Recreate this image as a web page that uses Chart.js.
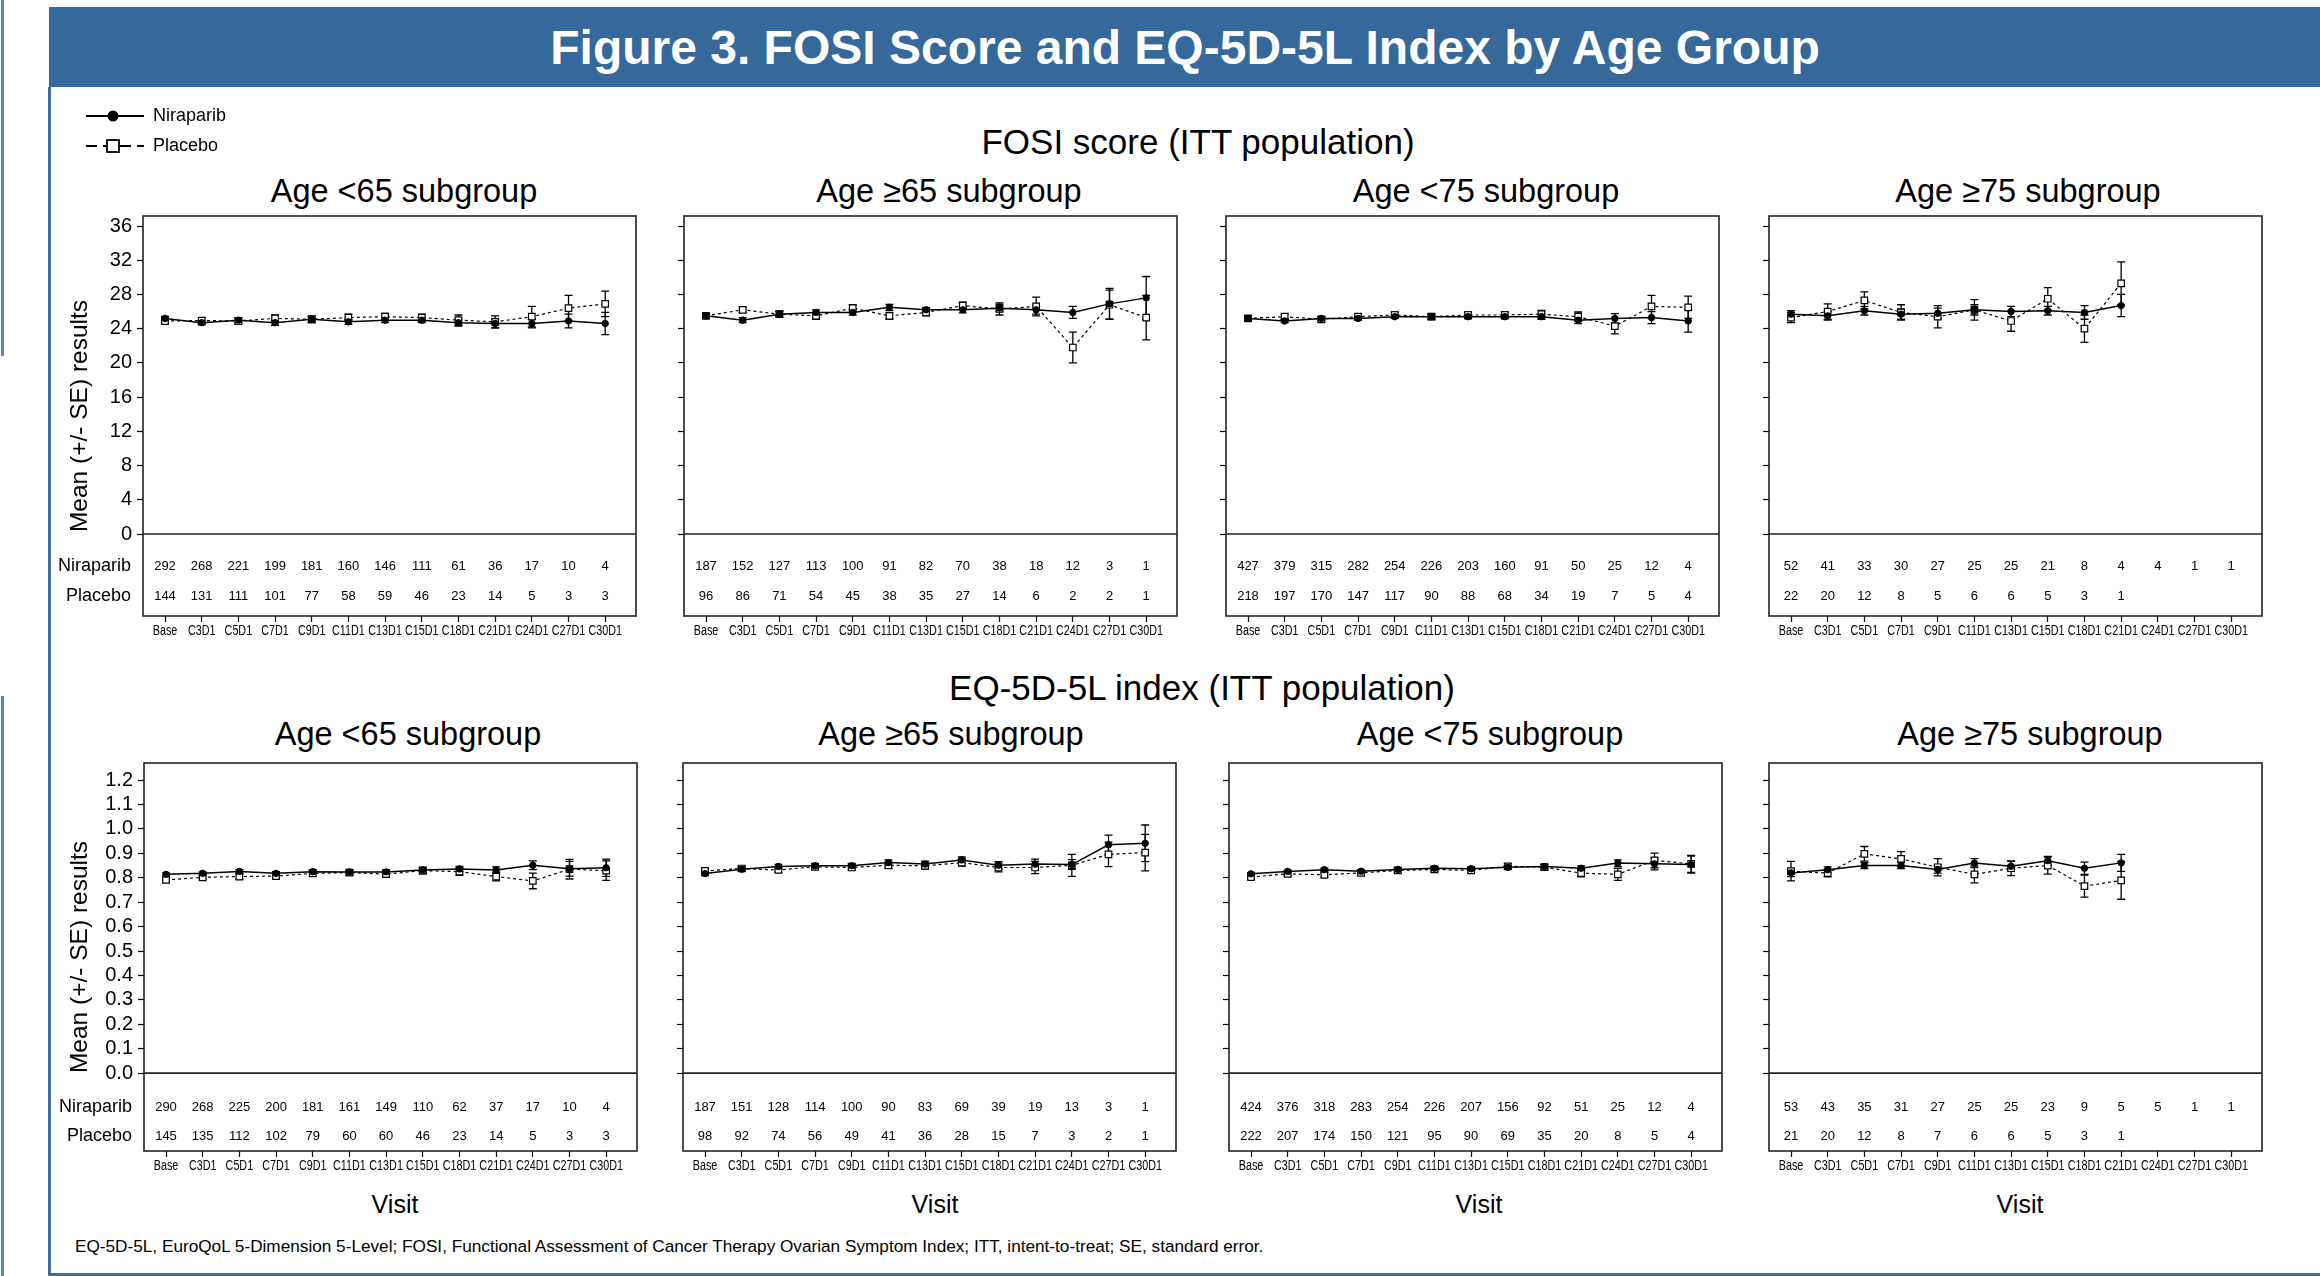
<!DOCTYPE html>
<html>
<head>
<meta charset="utf-8">
<title>Figure 3. FOSI Score and EQ-5D-5L Index by Age Group</title>
<script src="https://cdn.jsdelivr.net/npm/chart.js@4.4.0/dist/chart.umd.min.js"></script>
<style>
  html, body { margin: 0; padding: 0; background: #fff; }
  body { width: 2320px; height: 1276px; position: relative; overflow: hidden;
         font-family: Arial, "Liberation Sans", sans-serif; color: #000; }
  .abs { position: absolute; }
  .ctr { position: absolute; transform: translate(-50%, -50%); white-space: nowrap; }
  #banner { left: 49px; top: 7px; width: 2271px; height: 80px; background: #35689b; }
  #title { left: 1185px; top: 47px; color: #fff; font-weight: bold; font-size: 48px; }
  .section { font-size: 35px; }
  .sub { font-size: 32.5px; }
  .visit { font-size: 25px; top: 1204px; }
  #foot { left: 75px; top: 1236px; font-size: 17.2px; white-space: nowrap; }
  .edge { background: #3e6fa3; }
</style>
</head>
<body>
<div class="abs edge" style="left:1px;top:0;width:3px;height:356px;background:#5b87b8"></div>
<div class="abs edge" style="left:1px;top:696px;width:3px;height:580px;background:#5b87b8"></div>
<div id="banner" class="abs"></div>
<div class="abs edge" style="left:48px;top:87px;width:3px;height:1189px"></div>
<div class="abs edge" style="left:48px;top:1273px;width:2272px;height:3px"></div>
<div id="title" class="ctr">Figure 3. FOSI Score and EQ-5D-5L Index by Age Group</div>

<canvas id="legend" class="abs" width="200" height="62" style="left:80px;top:100px"></canvas>

<div class="ctr section" style="left:1198px;top:142px">FOSI score (ITT population)</div>
<div class="ctr section" style="left:1202px;top:688px">EQ-5D-5L index (ITT population)</div>

<div class="ctr sub" style="left:404px;top:191px">Age &lt;65 subgroup</div>
<div class="ctr sub" style="left:949px;top:191px">Age ≥65 subgroup</div>
<div class="ctr sub" style="left:1486px;top:191px">Age &lt;75 subgroup</div>
<div class="ctr sub" style="left:2028px;top:191px">Age ≥75 subgroup</div>
<div class="ctr sub" style="left:408px;top:734px">Age &lt;65 subgroup</div>
<div class="ctr sub" style="left:951px;top:734px">Age ≥65 subgroup</div>
<div class="ctr sub" style="left:1490px;top:734px">Age &lt;75 subgroup</div>
<div class="ctr sub" style="left:2030px;top:734px">Age ≥75 subgroup</div>

<div class="ctr visit" style="left:395px">Visit</div>
<div class="ctr visit" style="left:935px">Visit</div>
<div class="ctr visit" style="left:1479px">Visit</div>
<div class="ctr visit" style="left:2020px">Visit</div>

<div id="foot" class="abs">EQ-5D-5L, EuroQoL 5-Dimension 5-Level; FOSI, Functional Assessment of Cancer Therapy Ovarian Symptom Index; ITT, intent-to-treat; SE, standard error.</div>

<script>
// visits and axis ticks
const visits = ['Base', 'C3D1', 'C5D1', 'C7D1', 'C9D1', 'C11D1', 'C13D1', 'C15D1', 'C18D1', 'C21D1', 'C24D1', 'C27D1', 'C30D1'];
const fosiTicks = [0, 4, 8, 12, 16, 20, 24, 28, 32, 36];
const eqTicks = [0.0, 0.1, 0.2, 0.3, 0.4, 0.5, 0.6, 0.7, 0.8, 0.9, 1.0, 1.1, 1.2];

// FOSI score, age <65
const fosiU65Nira = [25.2, 24.7, 25.0, 24.7, 25.1, 24.8, 25.0, 25.0, 24.7, 24.6, 24.6, 24.9, 24.6];
const fosiU65NiraSE = [0.25, 0.25, 0.3, 0.3, 0.3, 0.3, 0.3, 0.3, 0.4, 0.5, 0.5, 0.8, 1.3];
const fosiU65Plac = [24.9, 24.95, 24.9, 25.2, 25.1, 25.3, 25.4, 25.3, 25.0, 24.8, 25.4, 26.4, 26.9];
const fosiU65PlacSE = [0.35, 0.35, 0.35, 0.4, 0.4, 0.4, 0.4, 0.4, 0.6, 0.7, 1.2, 1.5, 1.5];
const fosiU65NiraN = [292, 268, 221, 199, 181, 160, 146, 111, 61, 36, 17, 10, 4];
const fosiU65PlacN = [144, 131, 111, 101, 77, 58, 59, 46, 23, 14, 5, 3, 3];

// FOSI score, age >=65
const fosiO65Nira = [25.5, 25.0, 25.7, 25.9, 25.9, 26.5, 26.2, 26.2, 26.4, 26.2, 25.9, 26.9, 27.6];
const fosiO65NiraSE = [0.25, 0.3, 0.3, 0.3, 0.3, 0.35, 0.3, 0.35, 0.4, 0.5, 0.7, 1.8, 2.5];
const fosiO65Plac = [25.5, 26.2, 25.7, 25.5, 26.4, 25.5, 25.9, 26.7, 26.3, 26.6, 21.8, 26.8, 25.3];
const fosiO65PlacSE = [0.3, 0.3, 0.35, 0.4, 0.4, 0.4, 0.4, 0.4, 0.7, 1.1, 1.8, 1.7, 2.6];
const fosiO65NiraN = [187, 152, 127, 113, 100, 91, 82, 70, 38, 18, 12, 3, 1];
const fosiO65PlacN = [96, 86, 71, 54, 45, 38, 35, 27, 14, 6, 2, 2, 1];

// FOSI score, age <75
const fosiU75Nira = [25.2, 24.9, 25.2, 25.2, 25.4, 25.4, 25.4, 25.4, 25.4, 25.0, 25.2, 25.3, 24.9];
const fosiU75NiraSE = [0.2, 0.2, 0.2, 0.2, 0.2, 0.25, 0.25, 0.25, 0.3, 0.4, 0.55, 0.7, 1.3];
const fosiU75Plac = [25.2, 25.4, 25.1, 25.4, 25.6, 25.4, 25.6, 25.6, 25.7, 25.4, 24.3, 26.6, 26.5];
const fosiU75PlacSE = [0.3, 0.3, 0.3, 0.3, 0.35, 0.35, 0.35, 0.35, 0.45, 0.55, 0.9, 1.3, 1.3];
const fosiU75NiraN = [427, 379, 315, 282, 254, 226, 203, 160, 91, 50, 25, 12, 4];
const fosiU75PlacN = [218, 197, 170, 147, 117, 90, 88, 68, 34, 19, 7, 5, 4];

// FOSI score, age >=75
const fosiO75Nira = [25.7, 25.5, 26.1, 25.7, 25.8, 26.2, 26.0, 26.1, 25.9, 26.7];
const fosiO75NiraSE = [0.4, 0.5, 0.5, 0.6, 0.6, 0.6, 0.6, 0.5, 0.8, 1.3];
const fosiO75Plac = [25.3, 26.0, 27.3, 25.9, 25.4, 26.2, 24.9, 27.5, 24.0, 29.3];
const fosiO75PlacSE = [0.6, 0.9, 1.0, 0.9, 1.3, 1.2, 1.2, 1.3, 1.6, 2.5];
const fosiO75NiraN = [52, 41, 33, 30, 27, 25, 25, 21, 8, 4, 4, 1, 1];
const fosiO75PlacN = [22, 20, 12, 8, 5, 6, 6, 5, 3, 1];

// EQ-5D-5L index, age <65
const eqU65Nira = [0.814, 0.818, 0.826, 0.818, 0.825, 0.824, 0.824, 0.832, 0.836, 0.832, 0.851, 0.837, 0.841];
const eqU65NiraSE = [0.006, 0.006, 0.007, 0.007, 0.008, 0.008, 0.009, 0.010, 0.011, 0.013, 0.018, 0.030, 0.035];
const eqU65Plac = [0.791, 0.802, 0.805, 0.807, 0.818, 0.821, 0.815, 0.829, 0.825, 0.805, 0.787, 0.835, 0.829];
const eqU65PlacSE = [0.009, 0.009, 0.010, 0.010, 0.011, 0.011, 0.012, 0.013, 0.015, 0.018, 0.032, 0.040, 0.040];
const eqU65NiraN = [290, 268, 225, 200, 181, 161, 149, 110, 62, 37, 17, 10, 4];
const eqU65PlacN = [145, 135, 112, 102, 79, 60, 60, 46, 23, 14, 5, 3, 3];

// EQ-5D-5L index, age >=65
const eqO65Nira = [0.817, 0.835, 0.846, 0.849, 0.849, 0.862, 0.856, 0.873, 0.851, 0.856, 0.854, 0.935, 0.941];
const eqO65NiraSE = [0.008, 0.009, 0.009, 0.010, 0.010, 0.011, 0.012, 0.012, 0.015, 0.020, 0.020, 0.040, 0.075];
const eqO65Plac = [0.828, 0.838, 0.832, 0.845, 0.842, 0.851, 0.849, 0.862, 0.842, 0.842, 0.851, 0.896, 0.903];
const eqO65PlacSE = [0.010, 0.010, 0.010, 0.011, 0.011, 0.012, 0.013, 0.014, 0.018, 0.025, 0.045, 0.050, 0.075];
const eqO65NiraN = [187, 151, 128, 114, 100, 90, 83, 69, 39, 19, 13, 3, 1];
const eqO65PlacN = [98, 92, 74, 56, 49, 41, 36, 28, 15, 7, 3, 2, 1];

// EQ-5D-5L index, age <75
const eqU75Nira = [0.816, 0.826, 0.833, 0.827, 0.834, 0.839, 0.837, 0.843, 0.846, 0.839, 0.860, 0.857, 0.854];
const eqU75NiraSE = [0.005, 0.005, 0.006, 0.006, 0.006, 0.007, 0.007, 0.008, 0.009, 0.010, 0.013, 0.025, 0.035];
const eqU75Plac = [0.803, 0.816, 0.812, 0.820, 0.830, 0.834, 0.830, 0.847, 0.843, 0.819, 0.814, 0.871, 0.857];
const eqU75PlacSE = [0.007, 0.007, 0.008, 0.008, 0.009, 0.010, 0.010, 0.011, 0.013, 0.015, 0.025, 0.030, 0.035];
const eqU75NiraN = [424, 376, 318, 283, 254, 226, 207, 156, 92, 51, 25, 12, 4];
const eqU75PlacN = [222, 207, 174, 150, 121, 95, 90, 69, 35, 20, 8, 5, 4];

// EQ-5D-5L index, age >=75
const eqO75Nira = [0.820, 0.833, 0.850, 0.850, 0.834, 0.860, 0.847, 0.870, 0.839, 0.861];
const eqO75NiraSE = [0.015, 0.012, 0.012, 0.012, 0.015, 0.018, 0.020, 0.018, 0.025, 0.035];
const eqO75Plac = [0.827, 0.819, 0.898, 0.877, 0.843, 0.814, 0.839, 0.850, 0.766, 0.789];
const eqO75PlacSE = [0.040, 0.015, 0.030, 0.030, 0.035, 0.035, 0.030, 0.035, 0.045, 0.077];
const eqO75NiraN = [53, 43, 35, 31, 27, 25, 25, 23, 9, 5, 5, 1, 1];
const eqO75PlacN = [21, 20, 12, 8, 7, 6, 6, 5, 3, 1];

const FONT = 'Arial, "Liberation Sans", sans-serif';
Chart.defaults.font.family = FONT;
Chart.defaults.color = '#000';

// layout of the two rows of panels
const FRAME_W = 493, PAD_T = 24, PAD_B = 32, PAD_R = 12;
const rowFosi = { frameTop: 216, frameH: 400, min: -9.58, max: 37.17, ticks: fosiTicks,
                  fmt: v => String(v), r1: 32, r2: 62 };
const rowEq = { frameTop: 763, frameH: 388, min: -0.319, max: 1.27, ticks: eqTicks,
                fmt: v => v.toFixed(1), r1: 34, r2: 63 };

const panels = [
  { row: rowFosi, frameLeft: 143, first: true, nira: fosiU65Nira, niraSE: fosiU65NiraSE, plac: fosiU65Plac, placSE: fosiU65PlacSE, niraN: fosiU65NiraN, placN: fosiU65PlacN },
  { row: rowFosi, frameLeft: 684, nira: fosiO65Nira, niraSE: fosiO65NiraSE, plac: fosiO65Plac, placSE: fosiO65PlacSE, niraN: fosiO65NiraN, placN: fosiO65PlacN },
  { row: rowFosi, frameLeft: 1226, nira: fosiU75Nira, niraSE: fosiU75NiraSE, plac: fosiU75Plac, placSE: fosiU75PlacSE, niraN: fosiU75NiraN, placN: fosiU75PlacN },
  { row: rowFosi, frameLeft: 1769, nira: fosiO75Nira, niraSE: fosiO75NiraSE, plac: fosiO75Plac, placSE: fosiO75PlacSE, niraN: fosiO75NiraN, placN: fosiO75PlacN },
  { row: rowEq, frameLeft: 144, first: true, nira: eqU65Nira, niraSE: eqU65NiraSE, plac: eqU65Plac, placSE: eqU65PlacSE, niraN: eqU65NiraN, placN: eqU65PlacN },
  { row: rowEq, frameLeft: 683, nira: eqO65Nira, niraSE: eqO65NiraSE, plac: eqO65Plac, placSE: eqO65PlacSE, niraN: eqO65NiraN, placN: eqO65PlacN },
  { row: rowEq, frameLeft: 1229, nira: eqU75Nira, niraSE: eqU75NiraSE, plac: eqU75Plac, placSE: eqU75PlacSE, niraN: eqU75NiraN, placN: eqU75PlacN },
  { row: rowEq, frameLeft: 1769, nira: eqO75Nira, niraSE: eqO75NiraSE, plac: eqO75Plac, placSE: eqO75PlacSE, niraN: eqO75NiraN, placN: eqO75PlacN }
];

function makePanel(p) {
  const row = p.row;
  const left = p.first ? 50 : p.frameLeft - 22;
  const padL = p.frameLeft - left;
  const canvas = document.createElement('canvas');
  canvas.className = 'abs';
  canvas.width = padL + FRAME_W + PAD_R;
  canvas.height = PAD_T + row.frameH + PAD_B;
  canvas.style.left = left + 'px';
  canvas.style.top = (row.frameTop - PAD_T) + 'px';
  document.body.appendChild(canvas);

  const toPts = arr => arr.map((v, i) => ({ x: i, y: v }));

  // error bars, frame, zero line, condensed visit labels and the at-risk table
  const panelPlugin = {
    id: 'panelDecor',
    beforeDatasetsDraw(chart) {
      const { ctx, scales: { x, y } } = chart;
      ctx.save();
      ctx.strokeStyle = '#000';
      ctx.lineWidth = 1.3;
      chart.data.datasets.forEach(ds => {
        ds.data.forEach((pt, i) => {
          const se = ds.se[i];
          if (pt.y == null || se == null) return;
          const px = x.getPixelForValue(pt.x);
          const top = y.getPixelForValue(pt.y + se);
          const bot = y.getPixelForValue(pt.y - se);
          ctx.beginPath();
          ctx.moveTo(px, top); ctx.lineTo(px, bot);
          ctx.moveTo(px - 4, top); ctx.lineTo(px + 4, top);
          ctx.moveTo(px - 4, bot); ctx.lineTo(px + 4, bot);
          ctx.stroke();
        });
      });
      ctx.restore();
    },
    afterDraw(chart) {
      const { ctx, chartArea: a, scales: { x, y } } = chart;
      const y0 = y.getPixelForValue(0);
      ctx.save();
      ctx.strokeStyle = '#222';
      ctx.lineWidth = 1.6;
      ctx.strokeRect(a.left, a.top, a.right - a.left, a.bottom - a.top);
      ctx.beginPath();
      ctx.moveTo(a.left, y0); ctx.lineTo(a.right, y0);
      ctx.stroke();

      ctx.fillStyle = '#000';
      ctx.textBaseline = 'middle';
      ctx.textAlign = 'center';
      ctx.font = '13px ' + FONT;
      p.niraN.forEach((n, i) => ctx.fillText(String(n), x.getPixelForValue(i), y0 + row.r1));
      p.placN.forEach((n, i) => ctx.fillText(String(n), x.getPixelForValue(i), y0 + row.r2));

      // visit labels, horizontally condensed like the original
      ctx.font = '14px ' + FONT;
      ctx.textBaseline = 'top';
      x.ticks.forEach(t => {
        ctx.save();
        ctx.translate(x.getPixelForValue(t.value), a.bottom + 8);
        ctx.scale(0.77, 1);
        ctx.fillText(visits[t.value], 0, 0);
        ctx.restore();
      });

      if (p.first) {
        ctx.textAlign = 'right';
        ctx.textBaseline = 'middle';
        ctx.font = '18px ' + FONT;
        ctx.fillText('Niraparib', a.left - 12, y0 + row.r1);
        ctx.fillText('Placebo', a.left - 12, y0 + row.r2);
      }
      ctx.restore();
    }
  };

  new Chart(canvas.getContext('2d'), {
    type: 'line',
    data: {
      datasets: [
        {
          label: 'Niraparib', data: toPts(p.nira), se: p.niraSE, order: 0,
          borderColor: '#000', borderWidth: 1.5, tension: 0, spanGaps: false,
          pointStyle: 'circle', pointRadius: 3.2, pointBackgroundColor: '#000',
          pointBorderColor: '#000', pointBorderWidth: 1
        },
        {
          label: 'Placebo', data: toPts(p.plac), se: p.placSE, order: 1,
          borderColor: '#000', borderWidth: 1.2, borderDash: [3, 3], tension: 0, spanGaps: false,
          pointStyle: 'rect', pointRadius: 4.6, pointBackgroundColor: '#fff',
          pointBorderColor: '#000', pointBorderWidth: 1.2
        }
      ]
    },
    options: {
      responsive: false,
      animation: false,
      devicePixelRatio: 1,
      layout: { padding: { left: 0, top: PAD_T, right: PAD_R, bottom: 0 } },
      plugins: { legend: { display: false }, tooltip: { enabled: false } },
      scales: {
        x: {
          type: 'linear', min: -0.6, max: 12.84,
          afterBuildTicks: s => { s.ticks = visits.map((v, i) => ({ value: i })); },
          afterFit: s => { s.height = PAD_B; },
          grid: { drawOnChartArea: false, drawTicks: true, tickLength: 6, tickColor: '#000', tickWidth: 1.2 },
          border: { display: false },
          ticks: { autoSkip: false, maxRotation: 0, minRotation: 0, padding: 2, callback: () => '' }
        },
        y: {
          type: 'linear', min: row.min, max: row.max,
          afterBuildTicks: s => { s.ticks = row.ticks.map(v => ({ value: v })); },
          afterFit: s => { s.width = padL; },
          grid: { drawOnChartArea: false, drawTicks: true, tickLength: 6, tickColor: '#000', tickWidth: 1.2 },
          border: { display: false },
          ticks: {
            padding: 5, color: '#000', font: { size: 20 },
            callback: v => p.first ? row.fmt(v) : ''
          },
          title: {
            display: !!p.first, text: 'Mean (+/- SE) results', color: '#000',
            font: { size: 24.5 }, padding: { top: 16, bottom: 0 }
          }
        }
      }
    },
    plugins: [panelPlugin]
  });
}

panels.forEach(makePanel);

// shared legend, top left
(function drawLegend() {
  const ctx = document.getElementById('legend').getContext('2d');
  ctx.strokeStyle = '#000';
  ctx.fillStyle = '#000';
  ctx.lineWidth = 2.2;
  ctx.beginPath(); ctx.moveTo(6, 16); ctx.lineTo(64, 16); ctx.stroke();
  ctx.beginPath(); ctx.arc(33, 16, 5.5, 0, Math.PI * 2); ctx.fill();

  ctx.setLineDash([11, 6]);
  ctx.beginPath(); ctx.moveTo(6, 46); ctx.lineTo(64, 46); ctx.stroke();
  ctx.setLineDash([]);
  ctx.fillStyle = '#fff';
  ctx.fillRect(27, 40, 12, 12);
  ctx.lineWidth = 1.8;
  ctx.strokeRect(27, 40, 12, 12);

  ctx.fillStyle = '#000';
  ctx.font = '18px ' + FONT;
  ctx.textBaseline = 'middle';
  ctx.fillText('Niraparib', 73, 16);
  ctx.fillText('Placebo', 73, 46);
})();
</script>
</body>
</html>
